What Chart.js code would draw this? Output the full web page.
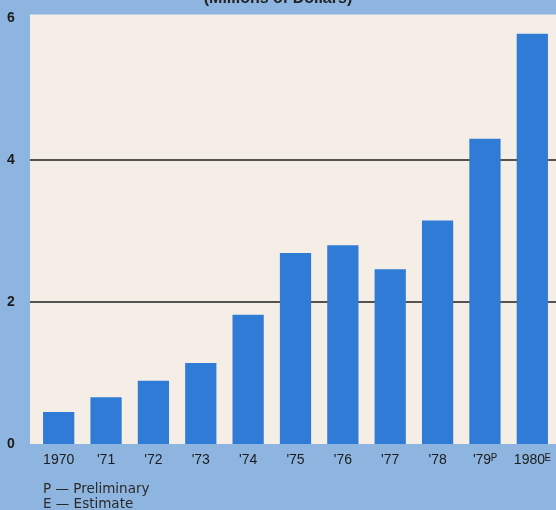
<!DOCTYPE html>
<html>
<head>
<meta charset="utf-8">
<script src="https://cdn.jsdelivr.net/npm/chart.js@4"></script>
<style>
  html, body { margin: 0; padding: 0; background: #8db5df; }
  #wrap { position: relative; width: 556px; height: 510px; overflow: hidden; }
  #title { position: absolute; left: 0; width: 556px; top: -11px; text-align: center;
           font: bold 16px "Liberation Sans", Arial, sans-serif; color: #222; }
  #notes { position: absolute; left: 43px; top: 481px;
           font: 13.5px "DejaVu Sans", sans-serif; color: #2a2a2a; line-height: 15px; }
</style>
</head>
<body>
<div id="wrap">
  <canvas id="c" width="556" height="510"></canvas>
  <div id="title">(Millions of Dollars)</div>
  <div id="notes">P — Preliminary<br>E — Estimate</div>
</div>
<script>
// values, millions of dollars
var years = ["1970", "'71", "'72", "'73", "'74", "'75", "'76", "'77", "'78", "'79ᴾ", "1980ᴱ"];
var amounts = [0.45, 0.66, 0.89, 1.14, 1.82, 2.69, 2.80, 2.46, 3.15, 4.30, 5.78];
var yTicks = [0, 2, 4, 6];
var ruled = [2, 4];   // only these get a horizontal rule

var CREAM = "#f4eee7", BAR = "#2f7bd6", INK = "#1c1c1c";

// cream plot panel (a bit wider than the category area) + the two black rules
var panel = {
  id: "panel",
  beforeDraw: function (chart) {
    var a = chart.chartArea, ctx = chart.ctx;
    ctx.save();
    ctx.fillStyle = CREAM;
    ctx.fillRect(30, a.top, 556 - 30, a.bottom - a.top);
    ctx.restore();
  },
  beforeDatasetsDraw: function (chart) {
    var ctx = chart.ctx, y = chart.scales.y;
    ctx.save();
    ctx.strokeStyle = "#1e1e1e";
    ctx.lineWidth = 1.6;
    ruled.forEach(function (v) {
      var py = y.getPixelForValue(v);
      ctx.beginPath(); ctx.moveTo(30, py); ctx.lineTo(556, py); ctx.stroke();
    });
    ctx.restore();
  }
};

new Chart(document.getElementById("c").getContext("2d"), {
  type: "bar",
  data: {
    labels: years,
    datasets: [{ data: amounts, backgroundColor: BAR, borderWidth: 0,
      categoryPercentage: 1, barPercentage: 0.66 }]
  },
  options: {
    responsive: false,
    animation: false,
    layout: { padding: { left: 7, top: 14.5, right: 0, bottom: 0 } },
    plugins: { legend: { display: false }, tooltip: { enabled: false } },
    scales: {
      x: {
        grid: { display: false, drawTicks: false },
        border: { display: false },
        ticks: { color: INK, padding: 8, maxRotation: 0, autoSkip: false,
          font: { family: "Liberation Sans", size: 14 } },
        afterFit: function (s) { s.height = 66; s.paddingLeft = 0; s.paddingRight = 0; }
      },
      y: {
        min: 0, max: 6.05,
        afterBuildTicks: function (s) { s.ticks = yTicks.map(function (v) { return { value: v }; }); },
        grid: { display: false, drawTicks: false },
        border: { display: false },
        ticks: { color: INK, crossAlign: "far", padding: 0,
          font: { family: "Liberation Sans", size: 14, weight: "bold" } },
        afterFit: function (s) { s.width = 28; }
      }
    }
  },
  plugins: [panel]
});
</script>
</body>
</html>
